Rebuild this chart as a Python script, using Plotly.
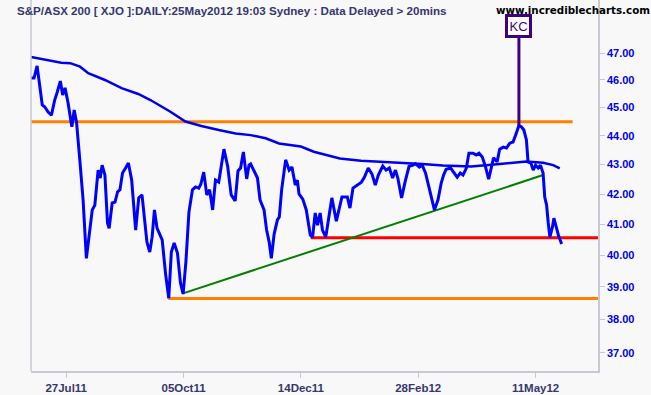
import math
import plotly.graph_objects as go

# ---------------- data ----------------
# trading-day index since 06Jul11 (day 0) and closing values
price_day = [0, 1.3, 2.6, 3.7, 4.8, 5.9, 7.3, 8.7, 10.1, 11.2,
             12.5, 13.5, 14.5, 15.8, 17.4, 18.4, 19.4, 20.8, 22.2, 23.6,
             25.1, 26.1, 27.2, 28.6, 29.5, 30.3, 31.5, 32.6, 33.3, 34.6,
             35.8, 36.9, 37.9, 39.0, 40.3, 41.5, 42.9, 44.6, 45.9, 47.3,
             49.4, 50.6, 51.6, 52.6, 53.7, 54.8, 55.9, 57.3, 58.7, 59.8,
             61.0, 62.4, 63.7, 64.8, 66.0, 67.3, 68.8, 70.1, 71.5, 72.4,
             73.6, 74.9, 76.1, 77.4, 78.6, 80.0, 82.2, 83.8, 85.3, 87.0,
             88.2, 89.3, 90.5, 91.9, 92.9, 93.6, 95.1, 96.5, 97.6, 99.3,
             100.4, 101.5, 102.4, 103.6, 105.0, 105.8, 106.8, 108.5, 110.0, 111.2,
             112.6, 113.5, 114.2, 115.8, 117.3, 119.0, 120.0, 121.1, 122.1, 123.2,
             124.2, 125.6, 127.1, 128.2, 130.1, 131.3, 132.5, 134.8, 135.9, 137.2,
             139.3, 140.8, 142.1, 143.7, 145.3, 146.7, 148.0, 149.9, 151.3, 152.7,
             154.1, 155.3, 156.3, 157.9, 159.5, 161.1, 162.8, 163.8, 165.5, 166.7,
             168.1, 169.8, 171.9, 173.4, 174.8, 175.8, 176.9, 178.8, 180.0, 181.6,
             182.9, 184.1, 185.5, 186.6, 188.3, 189.7, 190.9, 192.3, 193.7, 195.0,
             196.2, 197.1, 198.6, 199.7, 201.2, 202.6, 204.0, 205.4, 206.8, 207.9,
             209.0, 210.0, 211.1, 211.8, 213.0, 214.0, 215.0, 216.1, 217.1, 218.2,
             218.9, 219.7, 220.4, 221.1, 222.2, 222.8, 223.6, 224.7, 226.1]

price_val = [46.07, 46.07, 46.52, 45.89, 45.09, 45.02, 44.84, 44.73, 45.27, 45.56,
             45.96, 45.45, 45.71, 45.16, 44.31, 44.91, 44.48, 43.16, 41.80, 39.90,
             40.81, 41.47, 41.63, 42.81, 42.54, 42.98, 42.64, 41.04, 40.87, 41.70,
             41.73, 42.07, 42.14, 42.71, 42.88, 43.05, 42.47, 40.81, 41.87, 41.97,
             40.42, 40.10, 40.58, 41.47, 40.87, 40.68, 40.49, 39.44, 38.65, 40.10,
             40.39, 40.07, 39.12, 38.78, 39.78, 41.40, 42.14, 42.24, 42.20, 42.34,
             42.74, 41.97, 42.14, 41.47, 42.47, 42.40, 43.53, 42.94, 41.97, 41.77,
             42.78, 42.88, 43.43, 42.51, 42.98, 43.02, 42.74, 42.54, 41.80, 41.47,
             40.81, 40.42, 39.90, 40.68, 41.14, 41.24, 42.14, 43.16, 42.81, 42.91,
             42.30, 42.47, 42.00, 41.83, 41.47, 40.65, 40.58, 41.37, 40.97, 41.37,
             40.81, 40.58, 41.33, 41.87, 41.10, 41.47, 41.90, 41.90, 41.53, 42.20,
             42.30, 42.40, 42.57, 42.88, 42.67, 42.30, 42.64, 42.95, 42.81, 42.88,
             42.54, 42.81, 42.54, 41.87, 42.44, 42.94, 42.98, 43.03, 42.91, 42.98,
             42.71, 42.14, 41.47, 41.80, 42.37, 42.64, 42.84, 42.88, 42.74, 42.57,
             42.71, 42.64, 42.88, 43.39, 43.39, 43.33, 43.39, 43.26, 42.91, 42.50,
             42.91, 43.23, 43.09, 43.53, 43.60, 43.57, 43.74, 43.78, 44.09, 44.36,
             44.31, 44.20, 43.85, 43.09, 43.05, 42.81, 42.98, 42.88, 42.98, 42.71,
             41.90, 41.63, 41.04, 40.58, 40.91, 41.20, 40.97, 40.65, 40.36]

ma_day = [0, 7.3, 12.9, 16.7, 20.9, 24.4, 31.5, 38.6, 45.7, 50.9,
          59.4, 65.8, 72.6, 80.0, 87.2, 93.6, 100.0, 105.7, 115.0, 120.5,
          131.6, 140.6, 152.6, 166.7, 175.5, 187.6, 199.7, 211.1, 218.2, 222.5, 225.3]
ma_val = [46.85, 46.74, 46.64, 46.62, 46.49, 46.25, 46.00, 45.70, 45.49, 45.27,
          44.85, 44.50, 44.34, 44.20, 44.08, 44.02, 43.91, 43.73, 43.62, 43.44,
          43.21, 43.13, 43.09, 43.02, 42.97, 42.93, 43.02, 43.10, 43.06, 42.98, 42.87]

# drawn trend / support / resistance lines
resist_days = [0, 230.8]
resist_val = [44.49, 44.49]
support_low_days = [58.5, 241.6]
support_low_val = [38.64, 38.64]
support_red_days = [119.2, 241.6]
support_red_val = [40.56, 40.56]
trend_days = [64.8, 218.2]
trend_val = [38.80, 42.64]

kc_day = 207.9
kc_price = 44.36

x_tick_days = [15, 65, 115, 165, 215]
x_tick_labels = ["27Jul11", "05Oct11", "14Dec11", "28Feb12", "11May12"]
y_tick_vals = [37, 38, 39, 40, 41, 42, 43, 44, 45, 46, 47]
y_tick_labels = ["%.2f" % v for v in y_tick_vals]

title_text = "S&P/ASX 200 [ XJO ]:DAILY:25May2012 19:03 Sydney : Data Delayed > 20mins"
site_text = "www.incrediblecharts.com"

# ---------------- figure ----------------
BG = "#F8F8F8"
FRAME = "#C8C8D4"
FONT = "Liberation Sans, Arial, sans-serif"
Y_MIN, Y_MAX = 36.47, 49.03
X_MAX = 241.6
KC_TOP = 47.64

fig = go.Figure()

def line(x, y, color, width):
    fig.add_trace(go.Scatter(x=x, y=y, mode="lines",
                             line=dict(color=color, width=width),
                             hoverinfo="skip", showlegend=False))

line(resist_days, resist_val, "#FF8000", 3)
line(support_low_days, support_low_val, "#FF8000", 3)
line(support_red_days, support_red_val, "#FF0000", 3)
line(trend_days, trend_val, "#008000", 2)
line(ma_day, ma_val, "#0000EE", 2.5)
line(price_day, price_val, "#0000FF", 3)
line([kc_day, kc_day], [kc_price, KC_TOP], "#3F0080", 3)

fig.add_annotation(x=kc_day, xref="x", y=1 - 26 / 371, yref="paper",
                   text="KC", showarrow=False,
                   font=dict(family=FONT, size=13, color="#3F0080"),
                   bgcolor="white", bordercolor="#3F0080", borderwidth=3,
                   borderpad=1.5, xanchor="center", yanchor="middle")

fig.add_annotation(x=-16 / 567, xref="paper", y=1 - 11 / 371, yref="paper",
                   text="<b>" + title_text.replace("&", "&amp;").replace(">", "&gt;") + "</b>",
                   showarrow=False, xanchor="left", yanchor="middle",
                   font=dict(family=FONT, size=11.6, color="#36366E"))
fig.add_annotation(x=(494 - 31) / 567, xref="paper", y=1 - 10 / 371, yref="paper",
                   text="<b>" + site_text + "</b>",
                   showarrow=False, xanchor="left", yanchor="middle",
                   font=dict(family="DejaVu Sans, sans-serif", size=10.3, color="#000000"))

fig.add_shape(type="line", xref="paper", yref="paper", x0=0, x1=0, y0=0, y1=1,
              line=dict(color=FRAME, width=1.5))

fig.update_layout(
    width=651, height=395,
    margin=dict(l=31, r=53, t=0, b=24),
    paper_bgcolor=BG, plot_bgcolor=BG,
    showlegend=False,
    xaxis=dict(range=[0, X_MAX], tickvals=x_tick_days,
               ticktext=["<b>%s</b>" % t for t in x_tick_labels],
               tickfont=dict(family=FONT, size=11.5, color="#36366E"),
               ticks="outside", ticklen=5, tickcolor=FRAME,
               showgrid=False, zeroline=False,
               showline=True, linecolor=FRAME, linewidth=1.5),
    yaxis=dict(type="log", side="right",
               range=[math.log10(Y_MIN), math.log10(Y_MAX)],
               tickvals=y_tick_vals,
               ticktext=["<b>%s</b>" % t for t in y_tick_labels],
               tickfont=dict(family=FONT, size=11, color="#0000EE"),
               ticks="outside", ticklen=5, tickcolor=FRAME,
               showgrid=False, zeroline=False,
               showline=True, linecolor=FRAME, linewidth=1.5),
)

fig.write_html("out.html",
               config={"displayModeBar": False},
               post_script="document.body.style.margin='0';"
                           "document.body.style.background='" + BG + "';")
